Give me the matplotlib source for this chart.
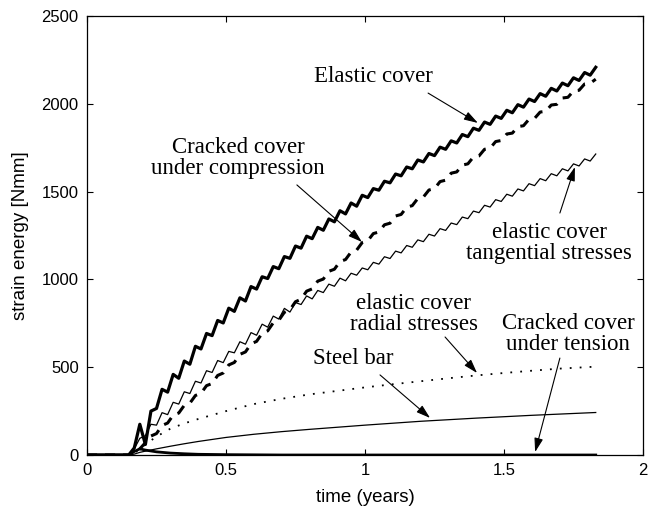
import matplotlib
matplotlib.use("Agg")
import matplotlib.pyplot as plt

# ---- data -------------------------------------------------------------
# time grid (years) for the saw-tooth curves
t_w = [0.0,
       0.15, 0.17, 0.19, 0.21, 0.23, 0.25, 0.27, 0.29, 0.31, 0.33,
       0.35, 0.37, 0.39, 0.41, 0.43, 0.45, 0.47, 0.49, 0.51, 0.53,
       0.55, 0.57, 0.59, 0.61, 0.63, 0.65, 0.67, 0.69, 0.71, 0.73,
       0.75, 0.77, 0.79, 0.81, 0.83, 0.85, 0.87, 0.89, 0.91, 0.93,
       0.95, 0.97, 0.99, 1.01, 1.03, 1.05, 1.07, 1.09, 1.11, 1.13,
       1.15, 1.17, 1.19, 1.21, 1.23, 1.25, 1.27, 1.29, 1.31, 1.33,
       1.35, 1.37, 1.39, 1.41, 1.43, 1.45, 1.47, 1.49, 1.51, 1.53,
       1.55, 1.57, 1.59, 1.61, 1.63, 1.65, 1.67, 1.69, 1.71, 1.73,
       1.75, 1.77, 1.79, 1.81, 1.83]

elastic_cover = [0,
       0, 40, 175, 60, 250, 265, 374, 358, 459, 437,
       535, 517, 619, 604, 692, 680, 766, 752, 836, 818,
       895, 877, 959, 945, 1015, 1005, 1073, 1061, 1130, 1120,
       1190, 1178, 1246, 1232, 1296, 1280, 1344, 1328, 1391, 1373,
       1435, 1417, 1479, 1466, 1517, 1508, 1559, 1550, 1600, 1590,
       1640, 1630, 1680, 1669, 1717, 1705, 1753, 1741, 1789, 1777,
       1825, 1813, 1861, 1849, 1896, 1883, 1930, 1917, 1963, 1949,
       1995, 1981, 2027, 2013, 2058, 2043, 2088, 2073, 2118, 2103,
       2148, 2133, 2178, 2163, 2208]

cracked_compression = [0,
       0, 5, 35, 70, 108, 122, 168, 182, 227, 239,
       283, 295, 339, 351, 395, 407, 453, 467, 513, 527,
       573, 587, 633, 647, 693, 707, 753, 767, 813, 827,
       873, 887, 933, 946, 990, 1002, 1046, 1058, 1102, 1113,
       1156, 1167, 1210, 1220, 1261, 1270, 1311, 1320, 1361, 1370,
       1411, 1420, 1461, 1469, 1509, 1517, 1557, 1565, 1605, 1612,
       1651, 1658, 1697, 1703, 1741, 1747, 1785, 1791, 1828, 1833,
       1870, 1875, 1912, 1917, 1953, 1957, 1993, 1997, 2033, 2037,
       2073, 2077, 2113, 2117, 2140]

elastic_tangential = [0,
       0, 35, 95, 110, 175, 170, 241, 230, 300, 290,
       360, 350, 420, 410, 480, 470, 538, 526, 590, 582,
       645, 631, 697, 682, 745, 728, 791, 774, 835, 814,
       868, 857, 906, 889, 937, 925, 973, 961, 1007, 992,
       1035, 1024, 1065, 1055, 1097, 1087, 1129, 1119, 1161, 1151,
       1193, 1183, 1225, 1215, 1257, 1247, 1289, 1279, 1321, 1312,
       1355, 1346, 1389, 1380, 1422, 1412, 1454, 1444, 1485, 1474,
       1515, 1504, 1545, 1534, 1574, 1562, 1602, 1590, 1630, 1618,
       1658, 1646, 1686, 1674, 1714]

# time grid for the smooth curves
t_s = [0.0, 0.15, 0.17, 0.19, 0.21, 0.25, 0.30, 0.35, 0.40, 0.50, 0.60,
       0.70, 0.80, 0.90, 1.00, 1.10, 1.20, 1.30, 1.40, 1.50, 1.60, 1.70, 1.83]
elastic_radial = [0, 0, 10, 35, 60, 105, 150, 180, 205, 250, 290,
                  320, 345, 365, 385, 403, 420, 437, 453, 467, 480, 492, 503]
steel_bar = [0, 0, 5, 15, 22, 35, 50, 64, 77, 100, 118,
             133, 146, 158, 170, 181, 192, 201, 210, 218, 226, 233, 242]
cracked_tension = [0, 0, 20, 35, 28, 18, 11, 7, 4, 2, 1,
                   0, 0, 0, 0, 0, 0, 0, 0, 0, 0, 0, 0]

x_ticks = [0, 0.5, 1, 1.5, 2]
x_tick_labels = ["0", "0.5", "1", "1.5", "2"]
y_ticks = [0, 500, 1000, 1500, 2000, 2500]
y_tick_labels = ["0", "500", "1000", "1500", "2000", "2500"]

# ---- figure -----------------------------------------------------------
fig = plt.figure(figsize=(6.56, 5.08), dpi=100)
ax = fig.add_axes([87/656, 1-455/508, (643-87)/656, (455-16)/508])

ax.plot(t_s, cracked_tension, color="black", lw=2.0, solid_joinstyle="miter")
ax.plot(t_s, steel_bar, color="black", lw=0.9)
ax.plot(t_s, elastic_radial, color="black", lw=1.3, linestyle=(0, (1, 4.5)))
ax.plot(t_w, elastic_tangential, color="black", lw=0.9)
ax.plot(t_w, cracked_compression, color="black", lw=2.2, linestyle=(0, (3.3, 2.6)))
ax.plot(t_w, elastic_cover, color="black", lw=2.3)

ax.set_xlim(0, 2)
ax.set_ylim(0, 2500)
ax.set_xticks(x_ticks)
ax.set_xticklabels(x_tick_labels)
ax.set_yticks(y_ticks)
ax.set_yticklabels(y_tick_labels)
ax.tick_params(direction="in", top=True, right=True, length=4, width=0.8,
               labelsize=12, pad=6)
for lab in ax.get_xticklabels() + ax.get_yticklabels():
    lab.set_family("Liberation Sans")
for s in ax.spines.values():
    s.set_linewidth(0.9)

ax.set_xlabel("time (years)", fontsize=13.5, family="Liberation Sans", labelpad=8)
ax.set_ylabel("strain energy [Nmm]", fontsize=13.5, family="Liberation Sans", labelpad=9)

serif = dict(family="Liberation Serif", fontsize=16.5, ha="center", va="center",
             linespacing=0.95)
ax.text(1.029, 2153, "Elastic cover", **serif)
ax.text(0.543, 1691, "Cracked cover\nunder compression", **serif)
ax.text(1.662, 1207, "elastic cover\ntangential stresses", **serif)
ax.text(1.176, 803, "elastic cover\nradial stresses", **serif)
ax.text(1.730, 689, "Cracked cover\nunder tension", **serif)
ax.text(0.957, 552, "Steel bar", **serif)

arrow = dict(arrowstyle="-|>,head_length=0.7,head_width=0.22", color="black",
             lw=0.8, shrinkA=0, shrinkB=0, mutation_scale=12)
arrows = [((1.227, 2061), (1.406, 1891)),
          ((0.755, 1538), (0.989, 1213)),
          ((1.701, 1378), (1.755, 1640)),
          ((1.288, 672), (1.403, 467)),
          ((1.054, 456), (1.234, 211)),
          ((1.701, 552), (1.612, 17))]
for tail, tip in arrows:
    ax.annotate("", xy=tip, xytext=tail, arrowprops=arrow)

fig.savefig("out.png", dpi=100)
